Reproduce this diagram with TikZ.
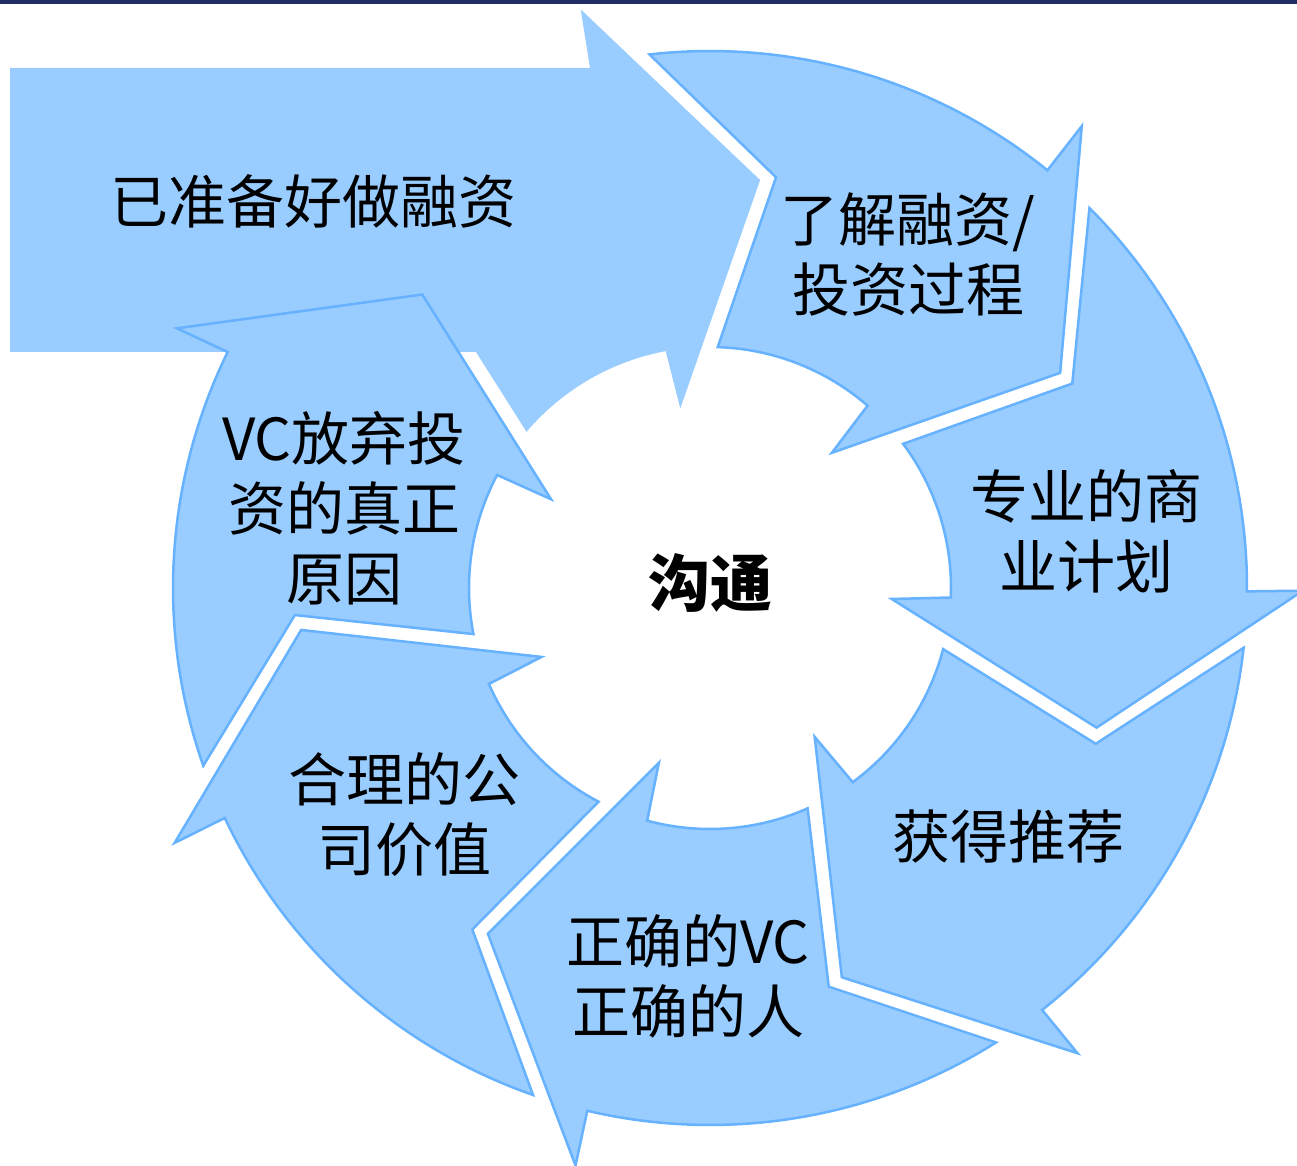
\documentclass[tikz,border=0pt]{standalone}
\usepackage{fontspec}
\setmainfont{Noto Sans CJK SC}
\definecolor{arrowfill}{RGB}{153,204,255}
\definecolor{arrowline}{RGB}{102,178,255}
\definecolor{topbar}{RGB}{32,44,102}
\begin{document}
\begin{tikzpicture}[x=1pt,y=1pt,
  ringarrow/.style={fill=arrowfill, draw=arrowline, line width=2.5pt, line join=miter},
  bigarrow/.style={fill=arrowfill},
  lbl/.style={font=\fontsize{58}{70}\selectfont, align=center, inner sep=0pt, text=black},
  hublbl/.style={font=\bfseries\fontsize{62}{70}\selectfont, align=center, inner sep=0pt, text=black}]
\useasboundingbox (0,0) rectangle (1297,1165);
\clip (0,0) rectangle (1297,1165);
\fill[topbar] (0,1161) rectangle (1297,1165);
\begin{scope}[shift={(710,577)}]
  % big straight arrow merged with the top-left ring segment
  \fill[bigarrow] (-700,520) -- (-120,520) -- (102.6:593) -- (83:411) -- (99.4:182) -- (100.6:241)
     arc[start angle=100.6, end angle=139.6, radius=241pt] -- (-234,236) -- (-700,236) -- cycle;
  % six outlined ring arrows
  \foreach \p in {31.57,-19.86,-71.29,-122.71,-174.14,-225.57}{
    \draw[ringarrow] ({\p+64.9}:537)
       arc[start angle={\p+64.9}, end angle={\p+19.5}, radius=537pt]
       -- ({\p+19.6}:593) -- (\p:411) -- ({\p+16.4}:182) -- ({\p+17.6}:241)
       arc[start angle={\p+17.6}, end angle={\p+56.6}, radius=241pt]
       -- ({\p+49.3}:416) -- cycle;
  }
\end{scope}
\node[lbl] (n0) at (313,964) {已准备好做融资};
\node[lbl] (n1) at (908,911) {了解融资/\\投资过程};
\node[lbl] (n2) at (1086,634) {专业的商\\业计划};
\node[lbl] (n3) at (1008,328) {获得推荐};
\node[lbl] (n4) at (688,189) {正确的VC\\正确的人};
\node[lbl] (n5) at (404,350) {合理的公\\司价值};
\node[lbl] (n6) at (344,657) {VC放弃投\\资的真正\\原因};
\node[hublbl] (hub) at (710,582) {沟通};
\end{tikzpicture}
\end{document}
